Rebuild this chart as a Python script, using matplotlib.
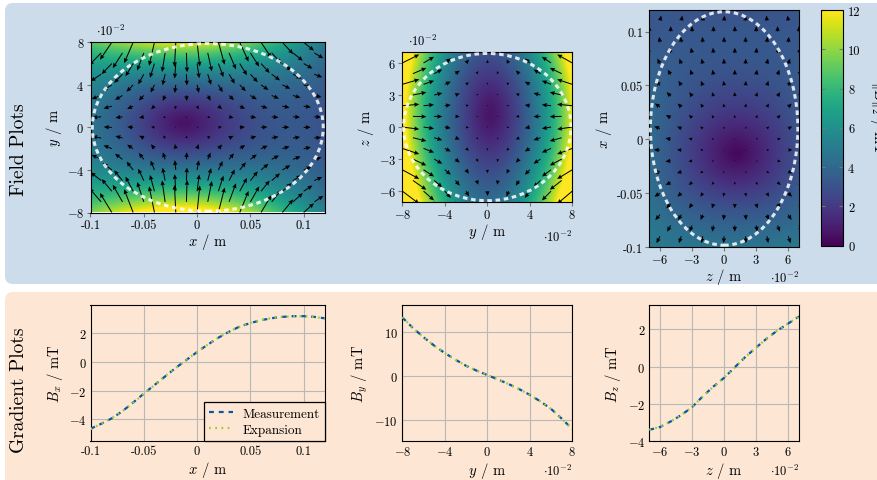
import numpy as np
import matplotlib
import matplotlib.pyplot as plt
from matplotlib.patches import Ellipse, FancyBboxPatch
from matplotlib.transforms import IdentityTransform

matplotlib.use('Agg')

plt.rcParams.update({
    'font.family': 'serif',
    'font.serif': ['cmr10'],
    'mathtext.fontset': 'cm',
    'axes.unicode_minus': False,
    'font.size': 9,
    'axes.labelsize': 10.5,
})

BLUE_BOX = '#cddcea'
PEACH_BOX = '#fde6d3'
MEAS_COLOR = '#0a56a8'
EXP_COLOR = '#9ccc36'

# line cuts (positions in m, fields in mT)
bx_pos = [-0.10, -0.09, -0.08, -0.07, -0.06, -0.05, -0.04, -0.03, -0.02, -0.01, 0.00, 0.01,
          0.02, 0.03, 0.04, 0.05, 0.06, 0.07, 0.08, 0.09, 0.10, 0.11, 0.12]
bx_meas = [-4.65, -4.30, -3.92, -3.42, -2.82, -2.20, -1.60, -1.00, -0.40, 0.15, 0.70, 1.22,
           1.70, 2.12, 2.48, 2.72, 2.92, 3.06, 3.15, 3.20, 3.20, 3.15, 3.05]
bx_exp = [-4.68, -4.30, -3.90, -3.42, -2.84, -2.22, -1.60, -0.98, -0.40, 0.16, 0.70, 1.22,
          1.71, 2.12, 2.47, 2.73, 2.93, 3.07, 3.15, 3.19, 3.20, 3.14, 3.04]

by_pos = [-0.08, -0.07, -0.06, -0.05, -0.04, -0.03, -0.02, -0.01, 0.00,
          0.01, 0.02, 0.03, 0.04, 0.05, 0.06, 0.07, 0.08]
by_meas = [13.4, 11.0, 8.9, 7.0, 5.3, 3.8, 2.4, 1.3, 0.3,
           -0.7, -1.75, -2.9, -4.2, -5.7, -7.4, -9.6, -12.0]
by_exp = [13.5, 11.0, 8.9, 7.0, 5.3, 3.8, 2.4, 1.3, 0.3,
          -0.7, -1.75, -2.9, -4.2, -5.7, -7.4, -9.6, -12.1]

bz_pos = [-0.07, -0.06, -0.05, -0.04, -0.03, -0.02, -0.01, 0.00,
          0.01, 0.02, 0.03, 0.04, 0.05, 0.06, 0.07]
bz_meas = [-3.40, -3.25, -2.95, -2.60, -2.18, -1.60, -1.07, -0.60,
           -0.03, 0.53, 1.03, 1.52, 1.95, 2.32, 2.70]
bz_exp = [-3.40, -3.24, -2.95, -2.60, -2.17, -1.61, -1.07, -0.60,
          -0.04, 0.52, 1.03, 1.52, 1.95, 2.33, 2.70]

# gradient expansion used for the field maps (mT, m)
bx_coef = [0.7, 52.5, -170.0, -1330.0, 3500.0]    # Bx along x
by_coef = [0.3, -90.0, 60.0, -10000.0]            # By along y
gz = 52.0                                          # dBz/dz
x0, z0 = -0.015, 0.012                             # field minimum
w_x = 0.11
k_yz = 250.0
c_xz = 4000.0
mix = 75.0


def field(x, y, z):
    g = np.exp(-((x - x0) / w_x) ** 2)
    by = np.polynomial.polynomial.polyval(y, by_coef) * g
    bx = np.polynomial.polynomial.polyval(x, bx_coef) + mix * y ** 2 * (x - x0) / w_x ** 2 * g
    bz = (z - z0) * (gz - c_xz * (x - x0) ** 2) * (1 + k_yz * y ** 2)
    return bx, by, bz


def lattice(u_lim, v_lim, parity):
    iu = np.arange(round(u_lim[0] * 100), round(u_lim[1] * 100) + 1)
    iv = np.arange(round(v_lim[0] * 100), round(v_lim[1] * 100) + 1)
    uu, vv = np.meshgrid(iu, iv)
    keep = (uu + vv) % 2 == parity
    return uu[keep] / 100, vv[keep] / 100


W, H = 877, 481
fig = plt.figure(figsize=(W / 100, H / 100), dpi=100)

fig.patches.append(FancyBboxPatch((5, H - 285), 900, 281, boxstyle='round,pad=0,rounding_size=8',
                                  transform=IdentityTransform(), facecolor=BLUE_BOX, edgecolor='none',
                                  zorder=-10, figure=fig))
fig.patches.append(FancyBboxPatch((5, -20), 900, H - 293 + 20, boxstyle='round,pad=0,rounding_size=8',
                                  transform=IdentityTransform(), facecolor=PEACH_BOX, edgecolor='none',
                                  zorder=-10, figure=fig))


def px_axes(left, top, right, bottom):
    return fig.add_axes([left / W, 1 - bottom / H, (right - left) / W, (bottom - top) / H])


def offset_label(ax, where, dy=-25):
    txt = r'$\cdot 10^{-2}$'
    if where == 'top':
        ax.annotate(txt, xy=(0, 1), xycoords='axes fraction', xytext=(4, 3),
                    textcoords='offset points', ha='left', va='bottom')
    else:
        ax.annotate(txt, xy=(1, 0), xycoords='axes fraction', xytext=(0, dy),
                    textcoords='offset points', ha='right', va='center')


def field_map(ax, plane, u_lim, v_lim, parity, scale):
    u = np.linspace(u_lim[0], u_lim[1], 300)
    v = np.linspace(v_lim[0], v_lim[1], 300)
    uu, vv = np.meshgrid(u, v)
    pu, pv = lattice(u_lim, v_lim, parity)
    if plane == 'xy':
        b = field(uu, vv, 0.0)
        q = field(pu, pv, 0.0)
        qu, qv = q[0], q[1]
    elif plane == 'yz':
        b = field(0.0, uu, vv)
        q = field(0.0, pu, pv)
        qu, qv = q[1], q[2]
    else:
        b = field(vv, 0.0, uu)
        q = field(pv, 0.0, pu)
        qu, qv = q[2], q[0]
    mag = np.sqrt(b[0] ** 2 + b[1] ** 2 + b[2] ** 2)
    im = ax.imshow(mag, extent=[u_lim[0], u_lim[1], v_lim[0], v_lim[1]], origin='lower',
                   cmap='viridis', vmin=0, vmax=12, aspect='auto', interpolation='bilinear')
    ax.quiver(pu, pv, qu, qv, angles='xy', scale_units='xy', scale=scale, units='dots',
              width=1.0, headwidth=4.5, headlength=5, headaxislength=4.5, color='black', zorder=3)
    ax.add_patch(Ellipse(((u_lim[0] + u_lim[1]) / 2, (v_lim[0] + v_lim[1]) / 2),
                         (u_lim[1] - u_lim[0]) * 0.985, (v_lim[1] - v_lim[0]) * 0.985,
                         fill=False, edgecolor='white', alpha=0.85, lw=2.2,
                         linestyle=(0, (1.5, 1.2)), zorder=4))
    ax.set_xlim(u_lim)
    ax.set_ylim(v_lim)
    ax.tick_params(direction='out', length=3, color='#777777', width=0.8, pad=1.5)
    return im


cm_ticks = lambda vals: [r'$%d$' % v if v >= 0 else r'$-%d$' % -v for v in vals]

# field plots
ax1 = px_axes(90.5, 43.3, 325, 213.5)
im = field_map(ax1, 'xy', (-0.1, 0.12), (-0.08, 0.08), 0, 500)
ax1.set_xticks([-0.1, -0.05, 0, 0.05, 0.1], ['-0.1', '-0.05', '0', '0.05', '0.1'])
ax1.set_yticks([-0.08, -0.04, 0, 0.04, 0.08], cm_ticks([-8, -4, 0, 4, 8]))
ax1.set_xlabel(r'$x$ / m', labelpad=0)
ax1.set_ylabel(r'$y$ / m', labelpad=2)
offset_label(ax1, 'top')

ax2 = px_axes(402.3, 53.3, 572.3, 202.8)
field_map(ax2, 'yz', (-0.08, 0.08), (-0.07, 0.07), 0, 800)
ax2.set_xticks([-0.08, -0.04, 0, 0.04, 0.08], cm_ticks([-8, -4, 0, 4, 8]))
ax2.set_yticks([-0.06, -0.03, 0, 0.03, 0.06], cm_ticks([-6, -3, 0, 3, 6]))
ax2.set_xlabel(r'$y$ / m', labelpad=0)
ax2.set_ylabel(r'$z$ / m', labelpad=2)
offset_label(ax2, 'top')
offset_label(ax2, 'bottom', -25)

ax3 = px_axes(649.3, 11, 799, 248)
field_map(ax3, 'zx', (-0.07, 0.07), (-0.1, 0.12), 1, 650)
ax3.set_xticks([-0.06, -0.03, 0, 0.03, 0.06], cm_ticks([-6, -3, 0, 3, 6]))
ax3.set_yticks([-0.1, -0.05, 0, 0.05, 0.1], ['-0.1', '-0.05', '0', '0.05', '0.1'])
ax3.set_xlabel(r'$z$ / m', labelpad=0)
ax3.set_ylabel(r'$x$ / m', labelpad=2)
offset_label(ax3, 'bottom', -22)

cax = px_axes(821.3, 11, 843.3, 246.7)
cb = fig.colorbar(im, cax=cax, ticks=[0, 2, 4, 6, 8, 10, 12])
cb.outline.set_linewidth(0.8)
cax.tick_params(direction='in', left=True, right=True, length=3, color='#777777', width=0.8)
fig.text(868 / W, 1 - 118 / H, r'$\|B\|_2$ / mT', rotation=270, ha='left', va='center', fontsize=10.5)


# gradient plots
def line_plot(ax, pos, meas, exp, xlim, ylim, xticks, xlabels, yticks, xlabel, ylabel):
    ax.set_facecolor('none')
    ax.plot(pos, meas, color=MEAS_COLOR, lw=1.6, linestyle=(0, (2.2, 2.2)), label='Measurement', zorder=3)
    ax.plot(pos, exp, color=EXP_COLOR, lw=1.6, linestyle=(0, (0.8, 2.0)), label='Expansion', zorder=4)
    ax.set_xlim(xlim)
    ax.set_ylim(ylim)
    ax.set_xticks(xticks, xlabels)
    ax.set_yticks(yticks, cm_ticks(yticks))
    ax.grid(True, color='#b8b8b8', lw=0.8)
    ax.set_axisbelow(True)
    ax.tick_params(length=0, pad=3)
    ax.set_xlabel(xlabel, labelpad=1)
    ax.set_ylabel(ylabel, labelpad=3)


ax4 = px_axes(90.5, 305.7, 325, 442)
line_plot(ax4, bx_pos, bx_meas, bx_exp, (-0.1, 0.12), (-5.5, 4.0),
          [-0.1, -0.05, 0, 0.05, 0.1], ['-0.1', '-0.05', '0', '0.05', '0.1'],
          [-4, -2, 0, 2], r'$x$ / m', r'$B_x$ / mT')
leg = ax4.legend(loc='lower right', borderaxespad=0, fancybox=False, edgecolor='black',
                 facecolor=PEACH_BOX, framealpha=1, handlelength=1.8, handletextpad=0.7,
                 fontsize=9.5, borderpad=0.4, labelspacing=0.3)
leg.get_frame().set_linewidth(0.9)

ax5 = px_axes(402.3, 305.7, 572.3, 442)
line_plot(ax5, by_pos, by_meas, by_exp, (-0.08, 0.08), (-14.7, 16.3),
          [-0.08, -0.04, 0, 0.04, 0.08], cm_ticks([-8, -4, 0, 4, 8]),
          [-10, 0, 10], r'$y$ / m', r'$B_y$ / mT')
offset_label(ax5, 'bottom', -21)

ax6 = px_axes(649.3, 305.7, 799, 442)
line_plot(ax6, bz_pos, bz_meas, bz_exp, (-0.07, 0.07), (-4.0, 3.33),
          [-0.06, -0.03, 0, 0.03, 0.06], cm_ticks([-6, -3, 0, 3, 6]),
          [-4, -2, 0, 2], r'$z$ / m', r'$B_z$ / mT')
offset_label(ax6, 'bottom', -21)

fig.text(19 / W, 1 - 150 / H, 'Field Plots', rotation=90, ha='center', va='center', fontsize=14)
fig.text(19 / W, 1 - 390 / H, 'Gradient Plots', rotation=90, ha='center', va='center', fontsize=14)

fig.savefig('out.png', dpi=100)
